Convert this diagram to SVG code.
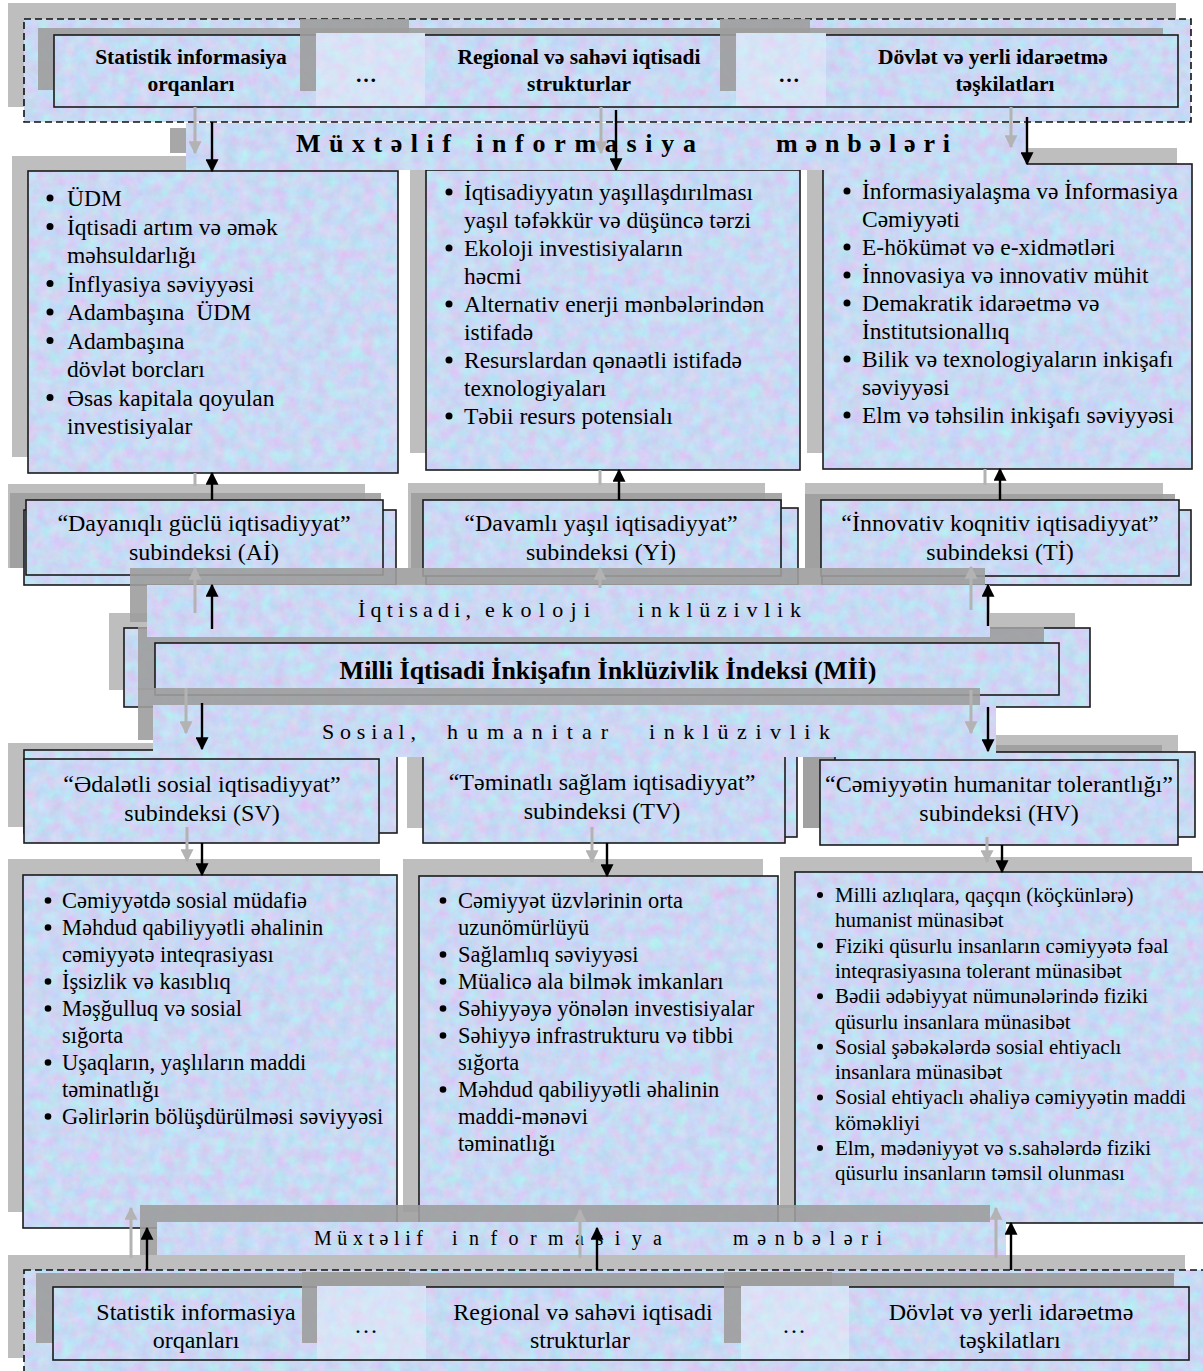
<svg xmlns="http://www.w3.org/2000/svg" width="1203" height="1371" viewBox="0 0 1203 1371">
<defs>
<filter id="noise" filterUnits="userSpaceOnUse" x="0" y="0" width="1203" height="1371" color-interpolation-filters="sRGB">
<feTurbulence type="fractalNoise" baseFrequency="0.08" numOctaves="4" seed="7"/>
<feColorMatrix type="matrix" values="0.26 0 0 0 0.66  -0.16 0.14 0 0 0.86  0 0 0.08 0 0.915  0 0 0 0 1"/>
</filter>
<pattern id="tp" patternUnits="userSpaceOnUse" x="0" y="0" width="1203" height="1371">
<rect width="1203" height="1371" fill="#fff" filter="url(#noise)"/>
</pattern>
<marker id="ah" viewBox="0 0 10 10" refX="9" refY="5" markerWidth="13" markerHeight="13" markerUnits="userSpaceOnUse" orient="auto"><path d="M0,0 L10,5 L0,10 z" fill="#000"/></marker>
<marker id="ahg" viewBox="0 0 10 10" refX="9" refY="5" markerWidth="13" markerHeight="13" markerUnits="userSpaceOnUse" orient="auto"><path d="M0,0 L10,5 L0,10 z" fill="#b3b3b3"/></marker>
<style>
.box{fill:url(#tp);stroke:#1b1b1b;stroke-width:1.6}
.tex{fill:url(#tp)}
.dash{fill:url(#tp);stroke:#111;stroke-width:1.6;stroke-dasharray:7 4}
.patch{fill:#eef2fb;fill-opacity:.4}
.sh1{fill:#bebebe}
.sh2{fill:#9d9d9d;fill-opacity:.9}
.t{font-family:"Liberation Serif","Times New Roman",serif;fill:#000}
.c{text-anchor:middle}
.bold{font-weight:bold}
.ftop{font-size:21.5px}
.fbot{font-size:24px}
.fl2{font-size:23.5px}
.fl5{font-size:22.5px}
.fhv{font-size:21px}
.fsub{font-size:24px}
.fband{font-size:22px}
.bl{fill:#000}
.ar{stroke:#000;stroke-width:2.4;fill:none;marker-end:url(#ah)}
.arg{stroke:#b3b3b3;stroke-width:3;fill:none;marker-end:url(#ahg)}
.lg{stroke:#b3b3b3;stroke-width:3;fill:none}
</style>
</defs>
<rect width="1203" height="1371" fill="#fff"/>

<!-- TOP SOURCES -->
<g id="top-sources">
<rect class="sh1" x="8" y="3" width="1168" height="104"/>
<rect class="dash" x="24" y="19" width="1167" height="103"/>
<rect class="sh2" x="38" y="28" width="1125" height="62"/>
<rect class="box" x="54" y="35" width="1124" height="72"/>
<rect class="sh2" x="300" y="19" width="109" height="72"/>
<rect class="tex" x="316" y="33" width="109" height="73"/>
<rect class="patch" x="316" y="33" width="109" height="73"/>
<rect class="sh2" x="720" y="19" width="90" height="72"/>
<rect class="tex" x="736" y="33" width="90" height="73"/>
<rect class="patch" x="736" y="33" width="90" height="73"/>
<text class="t c bold ftop" x="191" y="64">Statistik informasiya</text>
<text class="t c bold ftop" x="191" y="91">orqanları</text>
<text class="t c bold ftop" x="366" y="82">…</text>
<text class="t c bold ftop" x="579" y="64">Regional və sahəvi iqtisadi</text>
<text class="t c bold ftop" x="579" y="91">strukturlar</text>
<text class="t c bold ftop" x="789" y="82">…</text>
<text class="t c bold ftop" x="993" y="64">Dövlət və yerli idarəetmə</text>
<text class="t c bold ftop" x="1005" y="91">təşkilatları</text>
</g>

<!-- ROW 2 CONTENT BOXES -->
<g id="box-ai-list">
<rect class="sh1" x="12" y="156" width="370" height="301"/>
<rect class="box" x="28" y="171" width="370" height="302"/>
<g class="t fl2">
<text x="67" y="206">ÜDM</text>
<text x="67" y="234.5">İqtisadi artım və əmək</text>
<text x="67" y="263">məhsuldarlığı</text>
<text x="67" y="291.5">İnflyasiya səviyyəsi</text>
<text x="67" y="320">Adambaşına&#160; ÜDM</text>
<text x="67" y="348.5">Adambaşına</text>
<text x="67" y="377">dövlət borcları</text>
<text x="67" y="405.5">Əsas kapitala qoyulan</text>
<text x="67" y="434">investisiyalar</text>
</g>
<g class="bl"><circle cx="50" cy="198" r="3.5"/><circle cx="50" cy="226.5" r="3.5"/><circle cx="50" cy="283.5" r="3.5"/><circle cx="50" cy="312" r="3.5"/><circle cx="50" cy="340.5" r="3.5"/><circle cx="50" cy="397.5" r="3.5"/></g>
</g>

<g id="box-yi-list">
<rect class="sh1" x="410" y="155" width="375" height="298"/>
<rect class="box" x="426" y="170" width="374" height="300"/>
<g class="t fl2">
<text x="464" y="200">İqtisadiyyatın yaşıllaşdırılması</text>
<text x="464" y="228">yaşıl təfəkkür və düşüncə tərzi</text>
<text x="464" y="256">Ekoloji investisiyaların</text>
<text x="464" y="284">həcmi</text>
<text x="464" y="312">Alternativ enerji mənbələrindən</text>
<text x="464" y="340">istifadə</text>
<text x="464" y="368">Resurslardan qənaətli istifadə</text>
<text x="464" y="396">texnologiyaları</text>
<text x="464" y="424">Təbii resurs potensialı</text>
</g>
<g class="bl"><circle cx="449" cy="192" r="3.5"/><circle cx="449" cy="248" r="3.5"/><circle cx="449" cy="304" r="3.5"/><circle cx="449" cy="360" r="3.5"/><circle cx="449" cy="416" r="3.5"/></g>
</g>

<g id="box-ti-list">
<rect class="sh1" x="807" y="148" width="370" height="305"/>
<rect class="box" x="823" y="164" width="369" height="305"/>
<g class="t fl2">
<text x="862" y="199">İnformasiyalaşma və İnformasiya</text>
<text x="862" y="227">Cəmiyyəti</text>
<text x="862" y="255">E-hökümət və e-xidmətləri</text>
<text x="862" y="283">İnnovasiya və innovativ mühit</text>
<text x="862" y="311">Demakratik idarəetmə və</text>
<text x="862" y="339">İnstitutsionallıq</text>
<text x="862" y="367">Bilik və texnologiyaların inkişafı</text>
<text x="862" y="395">səviyyəsi</text>
<text x="862" y="423">Elm və təhsilin inkişafı səviyyəsi</text>
</g>
<g class="bl"><circle cx="847" cy="191" r="3.5"/><circle cx="847" cy="247" r="3.5"/><circle cx="847" cy="275" r="3.5"/><circle cx="847" cy="303" r="3.5"/><circle cx="847" cy="359" r="3.5"/><circle cx="847" cy="415" r="3.5"/></g>
</g>

<!-- TOP BAND -->
<g id="band-top">
<rect class="sh2" x="170" y="128" width="840" height="25"/>
<rect class="tex" x="186" y="123" width="841" height="47"/>
<text class="t bold" font-size="26" x="296" y="152" textLength="155" lengthAdjust="spacing">Müxtəlif</text>
<text class="t bold" font-size="26" x="476" y="152" textLength="220" lengthAdjust="spacing">informasiya</text>
<text class="t bold" font-size="26" x="776" y="152" textLength="174" lengthAdjust="spacing">mənbələri</text>
</g>

<!-- ROW 3 SUBINDEX -->
<g id="sub-ai">
<rect class="sh1" x="8" y="484" width="357" height="84"/>
<rect class="sh2" x="10" y="493" width="371" height="75"/>
<rect class="box" x="24" y="510" width="372" height="75"/>
<rect class="box" x="26" y="500" width="357" height="75"/>
<text class="t c fsub" x="204" y="531">“Dayanıqlı güclü iqtisadiyyat”</text>
<text class="t c fsub" x="204" y="560">subindeksi (Aİ)</text>
</g>
<g id="sub-yi">
<rect class="sh1" x="408" y="483" width="357" height="85"/>
<rect class="sh2" x="411" y="493" width="371" height="75"/>
<rect class="box" x="426" y="508" width="372" height="77"/>
<rect class="box" x="423" y="500" width="358" height="76"/>
<text class="t c fsub" x="601" y="531">“Davamlı yaşıl iqtisadiyyat”</text>
<text class="t c fsub" x="601" y="560">subindeksi (Yİ)</text>
</g>
<g id="sub-ti">
<rect class="sh1" x="805" y="483" width="358" height="85"/>
<rect class="sh2" x="805" y="494" width="370" height="74"/>
<rect class="box" x="822" y="510" width="369" height="75"/>
<rect class="box" x="821" y="500" width="358" height="76"/>
<text class="t c fsub" x="1000" y="531">“İnnovativ koqnitiv iqtisadiyyat”</text>
<text class="t c fsub" x="1000" y="560">subindeksi (Tİ)</text>
</g>

<!-- MII -->
<g id="mii">
<rect class="sh1" x="109" y="613" width="966" height="77"/>
<rect class="box" x="124" y="628" width="966" height="79"/>
<rect class="sh2" x="138" y="627" width="906" height="63"/>
</g>
<g id="band-econ">
<rect class="sh2" x="130" y="568" width="855" height="54"/>
<rect class="tex" x="147" y="585" width="843" height="52"/>
<text class="t fband" x="358" y="617" textLength="113" lengthAdjust="spacing">İqtisadi,</text>
<text class="t fband" x="485" y="617" textLength="105" lengthAdjust="spacing">ekoloji</text>
<text class="t fband" x="638" y="617" textLength="163" lengthAdjust="spacing">inklüzivlik</text>
</g>
<g id="mii-front">
<rect class="box" x="155" y="643" width="904" height="52"/>
<text class="t c bold" font-size="26" x="608" y="679">Milli İqtisadi İnkişafın İnklüzivlik İndeksi (Mİİ)</text>
</g>

<!-- ROW 4 SUBINDEX -->
<g id="sub-sv">
<rect class="sh1" x="8" y="743" width="372" height="84"/>
<rect class="box" x="24" y="750" width="373" height="83"/>
<rect class="box" x="24" y="759" width="355" height="84"/>
<text class="t c fsub" x="202" y="792">“Ədalətli sosial iqtisadiyyat”</text>
<text class="t c fsub" x="202" y="821">subindeksi (SV)</text>
</g>
<g id="sub-tv">
<rect class="sh1" x="407" y="740" width="363" height="88"/>
<rect class="box" x="430" y="748" width="367" height="89"/>
<rect class="box" x="423" y="755" width="362" height="88"/>
<text class="t c fsub" x="602" y="790">“Təminatlı sağlam iqtisadiyyat”</text>
<text class="t c fsub" x="602" y="819">subindeksi (TV)</text>
</g>
<g id="sub-hv">
<rect class="sh1" x="803" y="735" width="375" height="93"/>
<rect class="sh2" x="803" y="745" width="359" height="83"/>
<rect class="box" x="835" y="752" width="360" height="85"/>
<rect class="box" x="820" y="760" width="358" height="85"/>
<text class="t c fsub" x="999" y="792">“Cəmiyyətin humanitar tolerantlığı”</text>
<text class="t c fsub" x="999" y="821">subindeksi (HV)</text>
</g>

<g id="band-social">
<rect class="sh2" x="138" y="688" width="842" height="52"/>
<rect class="tex" x="153" y="705" width="843" height="52"/>
<text class="t fband" x="322" y="739" textLength="94" lengthAdjust="spacing">Sosial,</text>
<text class="t fband" x="447" y="739" textLength="161" lengthAdjust="spacing">humanitar</text>
<text class="t fband" x="649" y="739" textLength="181" lengthAdjust="spacing">inklüzivlik</text>
</g>

<!-- ROW 5 CONTENT -->
<g id="box-sv-list">
<rect class="sh1" x="8" y="859" width="372" height="353"/>
<rect class="box" x="23" y="875" width="374" height="353"/>
<g class="t fl5">
<text x="62" y="908">Cəmiyyətdə sosial müdafiə</text>
<text x="62" y="935">Məhdud qabiliyyətli əhalinin</text>
<text x="62" y="962">cəmiyyətə inteqrasiyası</text>
<text x="62" y="989">İşsizlik və kasıblıq</text>
<text x="62" y="1016">Məşğulluq və sosial</text>
<text x="62" y="1043">sığorta</text>
<text x="62" y="1070">Uşaqların, yaşlıların maddi</text>
<text x="62" y="1097">təminatlığı</text>
<text x="62" y="1124">Gəlirlərin bölüşdürülməsi səviyyəsi</text>
</g>
<g class="bl"><circle cx="48" cy="900.5" r="3.3"/><circle cx="48" cy="927.5" r="3.3"/><circle cx="48" cy="981.5" r="3.3"/><circle cx="48" cy="1008.5" r="3.3"/><circle cx="48" cy="1062.5" r="3.3"/><circle cx="48" cy="1116.5" r="3.3"/></g>
</g>

<g id="box-tv-list">
<rect class="sh1" x="403" y="859" width="360" height="353"/>
<rect class="box" x="419" y="876" width="359" height="352"/>
<g class="t fl5">
<text x="458" y="908">Cəmiyyət üzvlərinin orta</text>
<text x="458" y="935">uzunömürlüyü</text>
<text x="458" y="962">Sağlamlıq səviyyəsi</text>
<text x="458" y="989">Müalicə ala bilmək imkanları</text>
<text x="458" y="1016">Səhiyyəyə yönələn investisiyalar</text>
<text x="458" y="1043">Səhiyyə infrastrukturu və tibbi</text>
<text x="458" y="1070">sığorta</text>
<text x="458" y="1097">Məhdud qabiliyyətli əhalinin</text>
<text x="458" y="1124">maddi-mənəvi</text>
<text x="458" y="1151">təminatlığı</text>
</g>
<g class="bl"><circle cx="443" cy="900.5" r="3.3"/><circle cx="443" cy="954.5" r="3.3"/><circle cx="443" cy="981.5" r="3.3"/><circle cx="443" cy="1008.5" r="3.3"/><circle cx="443" cy="1035.5" r="3.3"/><circle cx="443" cy="1089.5" r="3.3"/></g>
</g>

<g id="box-hv-list">
<rect class="sh1" x="780" y="857" width="412" height="351"/>
<rect class="box" x="795" y="872" width="420" height="351"/>
<g class="t fhv">
<text x="835" y="902">Milli azlıqlara, qaçqın (köçkünlərə)</text>
<text x="835" y="927.3">humanist münasibət</text>
<text x="835" y="952.6">Fiziki qüsurlu insanların cəmiyyətə fəal</text>
<text x="835" y="977.9">inteqrasiyasına tolerant münasibət</text>
<text x="835" y="1003.2">Bədii ədəbiyyat nümunələrində fiziki</text>
<text x="835" y="1028.5">qüsurlu insanlara münasibət</text>
<text x="835" y="1053.8">Sosial şəbəkələrdə sosial ehtiyaclı</text>
<text x="835" y="1079.1">insanlara münasibət</text>
<text x="835" y="1104.4">Sosial ehtiyaclı əhaliyə cəmiyyətin maddi</text>
<text x="835" y="1129.7">köməkliyi</text>
<text x="835" y="1155">Elm, mədəniyyət və s.sahələrdə fiziki</text>
<text x="835" y="1180.3">qüsurlu insanların təmsil olunması</text>
</g>
<g class="bl"><circle cx="820" cy="895" r="3"/><circle cx="820" cy="945.6" r="3"/><circle cx="820" cy="996.2" r="3"/><circle cx="820" cy="1046.8" r="3"/><circle cx="820" cy="1097.4" r="3"/><circle cx="820" cy="1148" r="3"/></g>
</g>

<g id="band-bottom">
<rect class="sh2" x="140" y="1205" width="850" height="50"/>
<rect class="tex" x="157" y="1222" width="849" height="46"/>
<text class="t" font-size="20" x="314" y="1245" textLength="109" lengthAdjust="spacing">Müxtəlif</text>
<text class="t" font-size="20" x="452" y="1245" textLength="210" lengthAdjust="spacing">informasiya</text>
<text class="t" font-size="20" x="733" y="1245" textLength="149" lengthAdjust="spacing">mənbələri</text>
</g>

<!-- BOTTOM SOURCES -->
<g id="bottom-sources">
<rect class="sh1" x="8" y="1255" width="1177" height="103"/>
<rect class="dash" x="24" y="1270" width="1190" height="110"/>
<rect class="sh2" x="36" y="1273" width="1138" height="70"/>
<rect class="box" x="53" y="1287" width="1136" height="73"/>
<rect class="sh2" x="302" y="1272" width="108" height="71"/>
<rect class="tex" x="317" y="1286" width="109" height="73"/>
<rect class="patch" x="317" y="1286" width="109" height="73"/>
<rect class="sh2" x="724" y="1272" width="108" height="71"/>
<rect class="tex" x="741" y="1286" width="108" height="73"/>
<rect class="patch" x="741" y="1286" width="108" height="73"/>
<text class="t c fbot" x="196" y="1320">Statistik informasiya</text>
<text class="t c fbot" x="196" y="1348">orqanları</text>
<text class="t c fbot" x="366" y="1333">…</text>
<text class="t c fbot" x="583" y="1320">Regional və sahəvi iqtisadi</text>
<text class="t c fbot" x="580" y="1348">strukturlar</text>
<text class="t c fbot" x="794" y="1333">…</text>
<text class="t c fbot" x="1011" y="1320">Dövlət və yerli idarəetmə</text>
<text class="t c fbot" x="1010" y="1348">təşkilatları</text>
</g>

<!-- CONNECTORS -->
<g id="connectors">
<line class="arg" x1="195" y1="107" x2="195" y2="153"/>
<line class="ar" x1="212" y1="122" x2="212" y2="171"/>
<line class="arg" x1="601" y1="107" x2="601" y2="153"/>
<line class="ar" x1="616" y1="110" x2="616" y2="170"/>
<line class="arg" x1="1011" y1="107" x2="1011" y2="147"/>
<line class="ar" x1="1027" y1="117" x2="1027" y2="164"/>

<line class="lg" x1="195" y1="473" x2="195" y2="486"/>
<line class="ar" x1="212" y1="500" x2="212" y2="473"/>
<line class="lg" x1="600" y1="470" x2="600" y2="485"/>
<line class="ar" x1="619" y1="500" x2="619" y2="470"/>
<line class="lg" x1="985" y1="469" x2="985" y2="485"/>
<line class="ar" x1="1000" y1="500" x2="1000" y2="469"/>

<line class="arg" x1="195" y1="613" x2="195" y2="568"/>
<line class="ar" x1="212" y1="629" x2="212" y2="585"/>
<line class="arg" x1="600" y1="588" x2="600" y2="568"/>
<line class="arg" x1="971" y1="610" x2="971" y2="567"/>
<line class="ar" x1="988" y1="626" x2="988" y2="585"/>

<line class="arg" x1="186" y1="688" x2="186" y2="733"/>
<line class="ar" x1="202" y1="703" x2="202" y2="749"/>
<line class="arg" x1="971" y1="690" x2="971" y2="733"/>
<line class="ar" x1="988" y1="707" x2="988" y2="751"/>

<line class="arg" x1="187" y1="827" x2="187" y2="861"/>
<line class="ar" x1="202" y1="843" x2="202" y2="875"/>
<line class="arg" x1="592" y1="827" x2="592" y2="862"/>
<line class="ar" x1="607" y1="843" x2="607" y2="876"/>
<line class="arg" x1="987" y1="837" x2="987" y2="862"/>
<line class="ar" x1="1002" y1="845" x2="1002" y2="872"/>

<line class="arg" x1="131" y1="1258" x2="131" y2="1208"/>
<line class="ar" x1="147" y1="1270" x2="147" y2="1228"/>
<line class="arg" x1="580" y1="1258" x2="580" y2="1210"/>
<line class="ar" x1="597" y1="1270" x2="597" y2="1228"/>
<line class="arg" x1="996" y1="1258" x2="996" y2="1208"/>
<line class="ar" x1="1011" y1="1270" x2="1011" y2="1223"/>
</g>
</svg>
